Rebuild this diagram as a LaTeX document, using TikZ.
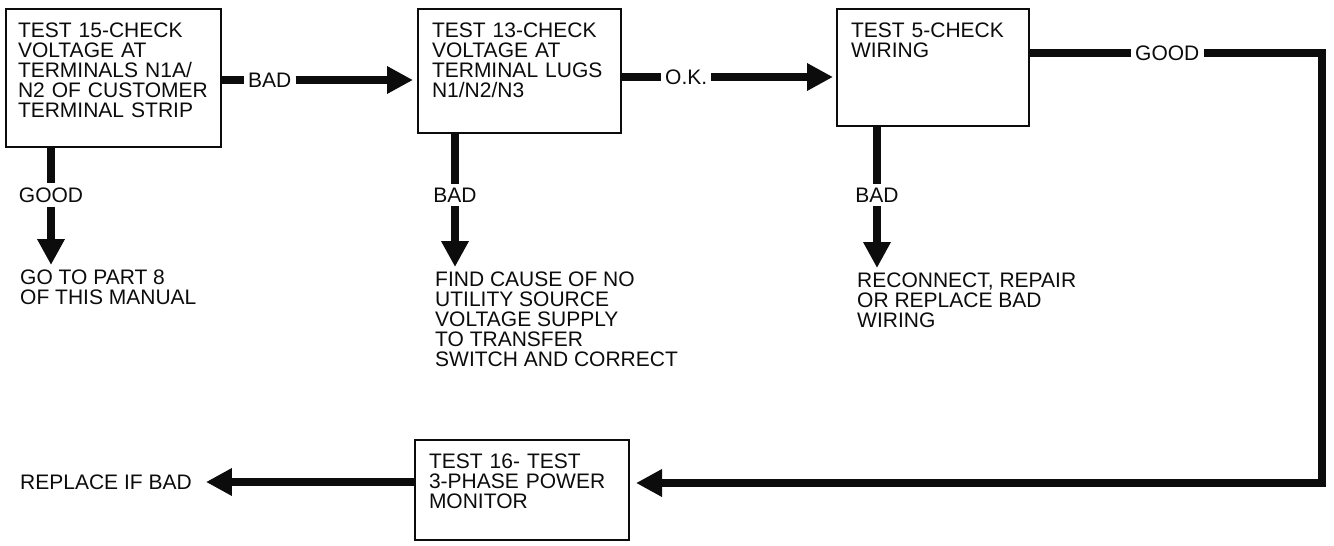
\documentclass[tikz,border=0pt]{standalone}
\usepackage{fontspec}
\setmainfont{Liberation Sans}
\usetikzlibrary{positioning,arrows.meta}
\definecolor{ManualInk}{RGB}{12,12,12}

\begin{document}
\begin{tikzpicture}[
x=1pt,
y=-1pt,
font=\fontsize{21}{20}\selectfont,
box/.style={
rectangle,
draw=ManualInk,
line width=2pt,
anchor=north west,
align=left,
inner xsep=14pt,
inner ysep=14pt,
text=ManualInk
},
tag/.style={
inner sep=4pt,
text=ManualInk
},
note/.style={
anchor=north west,
align=left,
inner sep=0pt,
text=ManualInk
},
link/.style={
line width=8pt,
draw=ManualInk
},
arrow/.style={
link,
-{Triangle[length=26pt,width=26pt]},
shorten >=5pt
}
]
\useasboundingbox (0,0) rectangle (1334,546);

% test boxes
\node[box,inner xsep=12pt,text width=191pt,text depth=95.5pt] (t15) at (5,8)
{TEST 15-CHECK\\VOLTAGE AT\\TERMINALS N1A/\\N2 OF CUSTOMER\\TERMINAL STRIP};
\node[box,text width=175pt,text depth=81.5pt,right=195pt of t15.north east,anchor=north west] (t13)
{TEST 13-CHECK\\VOLTAGE AT\\TERMINAL LUGS\\N1/N2/N3};
\node[box,text width=164pt,text depth=74.5pt,right=214pt of t13.north east,anchor=north west] (t5)
{TEST 5-CHECK\\WIRING};
\node[box,text width=186pt,text depth=57.5pt,below=305pt of t13.south west,anchor=north west,xshift=-3pt] (t16)
{TEST 16- TEST\\3-PHASE POWER\\MONITOR};

% branch labels
\node[tag,anchor=west] (bad1) at (244,80) {BAD};
\node[tag,anchor=west] (ok) at (661,77) {O.K.};
\node[tag,anchor=west] (good3) at (1131,53) {GOOD};
\node[tag] (good1) at (51,195) {GOOD};
\node[tag] (bad2) at (455,195) {BAD};
\node[tag] (bad3) at (877,195) {BAD};

% outcomes
\node[note] (goto8) at (20,270) {GO TO PART 8\\OF THIS MANUAL};
\node[note] (find) at (435,272)
{FIND CAUSE OF NO\\UTILITY SOURCE\\VOLTAGE SUPPLY\\TO TRANSFER\\SWITCH AND CORRECT};
\node[note] (rewire) at (857,273) {RECONNECT, REPAIR\\OR REPLACE BAD\\WIRING};
\node[note,anchor=west] (replace) at (20,482) {REPLACE IF BAD};

\coordinate (bend) at (1322,483);

% top row
\draw[link] (t15.east |- bad1) -- (bad1.west);
\draw[arrow,shorten >=4pt] (bad1.east) -- (bad1.east -| t13.west);
\draw[link] (t13.east |- ok) -- (ok.west);
\draw[arrow,shorten >=3pt] (ok.east) -- (ok.east -| t5.west);
\draw[link] (t5.east |- good3) -- (good3.west);
\draw[arrow,shorten >=6pt] (good3.east) -| (bend) -- (bend -| t16.east);
\draw[arrow,shorten >=14pt] (t16.west |- replace) -- (replace.east);

% down branches
\draw[link] (t15.south -| good1) -- (good1.north);
\draw[arrow] (good1.south) -- (good1.south |- goto8.north);
\draw[link] (t13.south -| bad2) -- (bad2.north);
\draw[arrow] (bad2.south) -- (bad2.south |- find.north);
\draw[link] (t5.south -| bad3) -- (bad3.north);
\draw[arrow] (bad3.south) -- (bad3.south |- rewire.north);

\end{tikzpicture}
\end{document}
